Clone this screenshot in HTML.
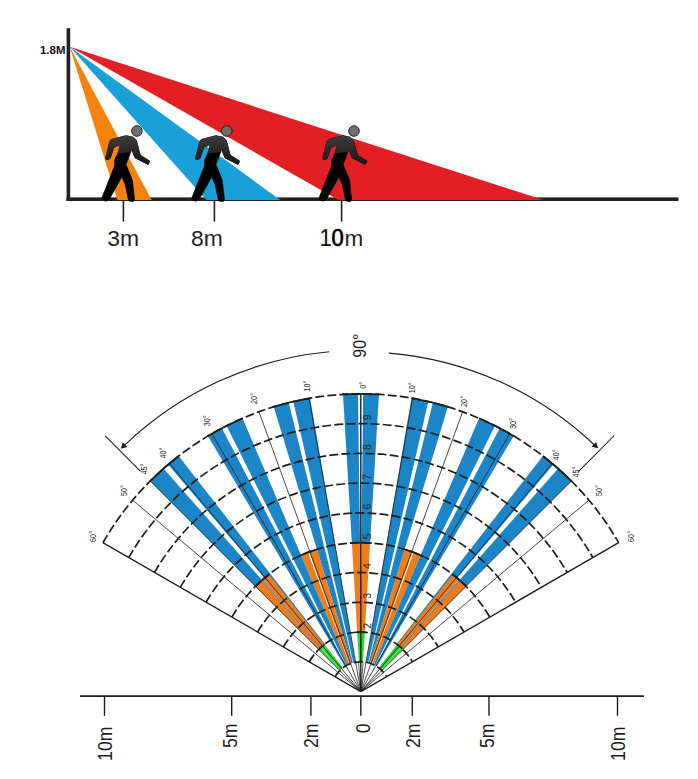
<!DOCTYPE html>
<html><head><meta charset="utf-8"><title>Detection pattern</title>
<style>
html,body{margin:0;padding:0;background:#fff;}
body{width:698px;height:779px;overflow:hidden;font-family:"Liberation Sans",sans-serif;}
svg{display:block;font-family:"Liberation Sans",sans-serif;}
</style></head><body>
<svg width="698" height="779" viewBox="0 0 698 779">
<rect width="698" height="779" fill="#fff"/>
<g id="side-view">
<rect x="66.6" y="28.2" width="3.6" height="172.8" fill="#231f20"/>
<rect x="66.6" y="197.4" width="611.9" height="3.6" fill="#231f20"/>
<path d="M69.7,46.8 L117.3,200.1 L151.7,200.1 Z" fill="#f5820d"/>
<path d="M69.7,46.8 L206.4,200.1 L280.4,200.1 Z" fill="#19a0d8"/>
<path d="M69.7,46.8 L338.4,200.1 L543.5,200.1 Z" fill="#e31f26"/>
<defs><linearGradient id="bg" gradientUnits="userSpaceOnUse" x1="0" y1="4" x2="0" y2="34"><stop offset="0" stop-color="#3e3e3e"/><stop offset="0.55" stop-color="#282828"/><stop offset="1" stop-color="#181818"/></linearGradient><clipPath id="up"><path d="M-40,0 L20,0 L20,36 L-3.6,36 L-4.6,20.6 L-22.6,23.2 L-22.6,32 L-40,32 Z"/></clipPath><g id="man"><path d="M-11.0,4.7 L-24.6,8.3 L-26.8,9.7 L-31.1,26.9 L-30.6,28.8 L-26.8,27.4 L-23.2,16.5 L-16.5,13.3 L-18.2,20.5 L-22.2,29.1 L-22.2,34.8 L-34.7,66.3 L-34.7,68.5 L-31.1,70.2 L-27.5,68.1 L-15.0,45.6 L-11.7,53.4 L-8.2,69.9 L-3.6,70.6 L-2.4,68.5 L-4.6,49.1 L-11.0,33.4 L-6.7,22.6 L-5.3,18.3 L-1.7,26.9 L11.2,33.4 L12.9,30.2 L3.3,24.1 L-0.7,9.0 L-3.9,6.2 Z" fill="#000" stroke="#000" stroke-width="0.8" stroke-linejoin="round"/><path d="M-11.0,4.7 L-24.6,8.3 L-26.8,9.7 L-31.1,26.9 L-30.6,28.8 L-26.8,27.4 L-23.2,16.5 L-16.5,13.3 L-18.2,20.5 L-22.2,29.1 L-22.2,34.8 L-34.7,66.3 L-34.7,68.5 L-31.1,70.2 L-27.5,68.1 L-15.0,45.6 L-11.7,53.4 L-8.2,69.9 L-3.6,70.6 L-2.4,68.5 L-4.6,49.1 L-11.0,33.4 L-6.7,22.6 L-5.3,18.3 L-1.7,26.9 L11.2,33.4 L12.9,30.2 L3.3,24.1 L-0.7,9.0 L-3.9,6.2 Z" fill="url(#bg)" stroke="url(#bg)" stroke-width="0.6" stroke-linejoin="round" clip-path="url(#up)"/><circle cx="0" cy="0" r="5.3" fill="#6e6e6e" stroke="#231f20" stroke-width="1"/></g></defs>
<use href="#man" x="136.9" y="131"/>
<use href="#man" x="226.8" y="131"/>
<use href="#man" x="354.0" y="131"/>
<line x1="123.4" y1="200" x2="123.4" y2="221.6" stroke="#231f20" stroke-width="1.6"/>
<line x1="214.4" y1="200" x2="214.4" y2="221.6" stroke="#231f20" stroke-width="1.6"/>
<line x1="341.6" y1="200" x2="341.6" y2="221.6" stroke="#231f20" stroke-width="1.6"/>
<text transform="translate(40,54.1) scale(1.08,1)" font-size="10.6" font-weight="bold" fill="#111">1.8M</text>
<text transform="translate(107.3,246.3) scale(1.05,1)" font-size="21.8" fill="#231f20">3m</text>
<text transform="translate(191.1,246.3) scale(1.05,1)" font-size="21.8" fill="#231f20">8m</text>
<text transform="translate(319.4,246.3) scale(0.94,1)" font-size="23.4" fill="#111" stroke="#111" stroke-width="0.15">1</text><text transform="translate(331.4,246.3) scale(0.94,1)" font-size="23.4" fill="#000" stroke="#000" stroke-width="0.7">0</text>
<text x="344.5" y="246.3" font-size="22.5" fill="#231f20">m</text>
</g>
<g id="top-view">
<path d="M358.97,661.88 L357.19,632.15 A59.56,59.56 0 0 1 361.37,632.04 L361.79,661.84 A29.78,29.78 0 0 0 358.97,661.88 Z" fill="#28d632"/>
<path d="M360.23,661.83 L360.55,632.04 A59.56,59.56 0 0 1 364.80,632.17 L363.03,661.90 A29.78,29.78 0 0 0 360.23,661.83 Z" fill="#28d632"/>
<path d="M357.19,632.15 L351.86,542.97 A148.90,148.90 0 0 1 360.10,542.70 L361.37,632.04 A59.56,59.56 0 0 0 357.19,632.15 Z" fill="#ef7d1a"/>
<path d="M360.55,632.04 L361.50,542.70 A148.90,148.90 0 0 1 370.12,542.99 L364.80,632.17 A59.56,59.56 0 0 0 360.55,632.04 Z" fill="#ef7d1a"/>
<path d="M351.86,542.97 L342.98,394.33 A297.80,297.80 0 0 1 357.99,393.81 L360.10,542.70 A148.90,148.90 0 0 0 351.86,542.97 Z" fill="#1c85c7"/>
<path d="M361.50,542.70 L363.09,393.81 A297.80,297.80 0 0 1 378.98,394.36 L370.12,542.99 A148.90,148.90 0 0 0 361.50,542.70 Z" fill="#1c85c7"/>
<path d="M366.28,662.33 L411.49,398.15 A297.80,297.80 0 0 1 428.30,401.55 L368.26,662.77 A29.78,29.78 0 0 0 366.28,662.33 Z" fill="#1c85c7"/>
<path d="M355.32,662.33 L310.11,398.15 A297.80,297.80 0 0 0 293.30,401.55 L353.34,662.77 A29.78,29.78 0 0 1 355.32,662.33 Z" fill="#1c85c7"/>
<path d="M368.71,662.89 L432.84,402.65 A297.80,297.80 0 0 1 447.87,406.81 L370.15,663.33 A29.78,29.78 0 0 0 368.71,662.89 Z" fill="#1c85c7"/>
<path d="M352.89,662.89 L288.76,402.65 A297.80,297.80 0 0 0 273.73,406.81 L351.45,663.33 A29.78,29.78 0 0 1 352.89,662.89 Z" fill="#1c85c7"/>
<path d="M370.15,663.33 L404.69,549.32 A148.90,148.90 0 0 1 412.46,551.95 L371.91,663.97 A29.78,29.78 0 0 0 370.15,663.33 Z" fill="#ef7d1a"/>
<path d="M351.45,663.33 L316.91,549.32 A148.90,148.90 0 0 0 309.14,551.95 L349.69,663.97 A29.78,29.78 0 0 1 351.45,663.33 Z" fill="#ef7d1a"/>
<path d="M372.15,664.07 L413.68,552.40 A148.90,148.90 0 0 1 420.60,555.23 L373.81,664.81 A29.78,29.78 0 0 0 372.15,664.07 Z" fill="#ef7d1a"/>
<path d="M349.45,664.07 L307.92,552.40 A148.90,148.90 0 0 0 301.00,555.23 L347.79,664.81 A29.78,29.78 0 0 1 349.45,664.07 Z" fill="#ef7d1a"/>
<path d="M373.81,664.81 L479.07,418.29 A297.80,297.80 0 0 1 495.07,425.79 L375.15,665.50 A29.78,29.78 0 0 0 373.81,664.81 Z" fill="#1c85c7"/>
<path d="M347.79,664.81 L242.53,418.29 A297.80,297.80 0 0 0 226.53,425.79 L346.45,665.50 A29.78,29.78 0 0 1 347.79,664.81 Z" fill="#1c85c7"/>
<path d="M375.60,665.76 L499.69,428.17 A297.80,297.80 0 0 1 513.73,436.07 L376.76,666.46 A29.78,29.78 0 0 0 375.60,665.76 Z" fill="#1c85c7"/>
<path d="M346.00,665.76 L221.91,428.17 A297.80,297.80 0 0 0 207.87,436.07 L344.84,666.46 A29.78,29.78 0 0 1 346.00,665.76 Z" fill="#1c85c7"/>
<path d="M396.67,644.05 L542.91,455.97 A297.80,297.80 0 0 1 553.41,464.48 L399.32,646.18 A59.56,59.56 0 0 0 396.67,644.05 Z" fill="#1c85c7"/>
<path d="M324.93,644.05 L178.69,455.97 A297.80,297.80 0 0 0 168.19,464.48 L322.28,646.18 A59.56,59.56 0 0 1 324.93,644.05 Z" fill="#1c85c7"/>
<path d="M400.27,646.99 L558.13,468.56 A297.80,297.80 0 0 1 571.38,481.02 L402.78,649.35 A59.56,59.56 0 0 0 400.27,646.99 Z" fill="#1c85c7"/>
<path d="M321.33,646.99 L163.47,468.56 A297.80,297.80 0 0 0 150.22,481.02 L318.82,649.35 A59.56,59.56 0 0 1 321.33,646.99 Z" fill="#1c85c7"/>
<path d="M378.64,667.75 L397.17,644.43 A59.56,59.56 0 0 1 400.70,647.38 L381.28,669.98 A29.78,29.78 0 0 0 378.64,667.75 Z" fill="#28d632"/>
<path d="M342.96,667.75 L324.43,644.43 A59.56,59.56 0 0 0 320.90,647.38 L340.32,669.98 A29.78,29.78 0 0 1 342.96,667.75 Z" fill="#28d632"/>
<path d="M397.17,644.43 L452.74,574.48 A148.90,148.90 0 0 1 458.93,579.61 L400.70,647.38 A59.56,59.56 0 0 0 397.17,644.43 Z" fill="#ef7d1a"/>
<path d="M324.43,644.43 L268.86,574.48 A148.90,148.90 0 0 0 262.67,579.61 L320.90,647.38 A59.56,59.56 0 0 1 324.43,644.43 Z" fill="#ef7d1a"/>
<path d="M381.49,670.18 L401.12,647.77 A59.56,59.56 0 0 1 402.78,649.35 L381.71,670.40 A29.78,29.78 0 0 0 381.49,670.18 Z" fill="#28d632"/>
<path d="M340.11,670.18 L320.48,647.77 A59.56,59.56 0 0 0 318.82,649.35 L339.89,670.40 A29.78,29.78 0 0 1 340.11,670.18 Z" fill="#28d632"/>
<path d="M401.12,647.77 L460.00,580.56 A148.90,148.90 0 0 1 466.01,586.23 L402.78,649.35 A59.56,59.56 0 0 0 401.12,647.77 Z" fill="#ef7d1a"/>
<path d="M320.48,647.77 L261.60,580.56 A148.90,148.90 0 0 0 255.59,586.23 L318.82,649.35 A59.56,59.56 0 0 1 320.48,647.77 Z" fill="#ef7d1a"/>
<path d="M400.70,647.38 L458.93,579.61 A148.90,148.90 0 0 1 460.00,580.56 L401.12,647.77 A59.56,59.56 0 0 0 400.70,647.38 Z" fill="#7d8fa3"/>
<path d="M320.90,647.38 L262.67,579.61 A148.90,148.90 0 0 0 261.60,580.56 L320.48,647.77 A59.56,59.56 0 0 1 320.90,647.38 Z" fill="#7d8fa3"/>
<path d="M381.28,669.98 L400.70,647.38 A59.56,59.56 0 0 1 401.12,647.77 L381.49,670.18 A29.78,29.78 0 0 0 381.28,669.98 Z" fill="#28d632"/>
<path d="M340.32,669.98 L320.90,647.38 A59.56,59.56 0 0 0 320.48,647.77 L340.11,670.18 A29.78,29.78 0 0 1 340.32,669.98 Z" fill="#28d632"/>
<path d="M335.01,676.71 A29.78,29.78 0 0 1 386.59,676.71" fill="none" stroke="#1d1d1b" stroke-width="1.7" stroke-dasharray="8.9 3.2"/>
<path d="M309.22,661.82 A59.56,59.56 0 0 1 412.38,661.82" fill="none" stroke="#1d1d1b" stroke-width="1.7" stroke-dasharray="8.9 3.2"/>
<path d="M283.43,646.93 A89.34,89.34 0 0 1 438.17,646.93" fill="none" stroke="#1d1d1b" stroke-width="1.7" stroke-dasharray="8.9 3.2"/>
<path d="M257.64,632.04 A119.12,119.12 0 0 1 463.96,632.04" fill="none" stroke="#1d1d1b" stroke-width="1.7" stroke-dasharray="8.9 3.2"/>
<path d="M231.85,617.15 A148.90,148.90 0 0 1 489.75,617.15" fill="none" stroke="#1d1d1b" stroke-width="1.7" stroke-dasharray="8.9 3.2"/>
<path d="M206.06,602.26 A178.68,178.68 0 0 1 515.54,602.26" fill="none" stroke="#1d1d1b" stroke-width="1.7" stroke-dasharray="8.9 3.2"/>
<path d="M180.27,587.37 A208.46,208.46 0 0 1 541.33,587.37" fill="none" stroke="#1d1d1b" stroke-width="1.7" stroke-dasharray="8.9 3.2"/>
<path d="M154.48,572.48 A238.24,238.24 0 0 1 567.12,572.48" fill="none" stroke="#1d1d1b" stroke-width="1.7" stroke-dasharray="8.9 3.2"/>
<path d="M128.69,557.59 A268.02,268.02 0 0 1 592.91,557.59" fill="none" stroke="#1d1d1b" stroke-width="1.7" stroke-dasharray="8.9 3.2"/>
<path d="M102.90,542.70 A297.80,297.80 0 0 1 618.70,542.70" fill="none" stroke="#1d1d1b" stroke-width="1.7" stroke-dasharray="8.9 3.2"/>
<path d="M360.80,393.80 A297.80,297.80 0 0 1 379.50,394.39" fill="none" stroke="#1d1d1b" stroke-width="1.8"/>
<path d="M360.80,393.80 A297.80,297.80 0 0 0 342.10,394.39" fill="none" stroke="#1d1d1b" stroke-width="1.8"/>
<path d="M411.49,398.15 A297.80,297.80 0 0 1 448.37,406.96" fill="none" stroke="#1d1d1b" stroke-width="1.8"/>
<path d="M310.11,398.15 A297.80,297.80 0 0 0 273.23,406.96" fill="none" stroke="#1d1d1b" stroke-width="1.8"/>
<path d="M479.07,418.29 A297.80,297.80 0 0 1 514.18,436.34" fill="none" stroke="#1d1d1b" stroke-width="1.8"/>
<path d="M242.53,418.29 A297.80,297.80 0 0 0 207.42,436.34" fill="none" stroke="#1d1d1b" stroke-width="1.8"/>
<path d="M542.91,455.97 A297.80,297.80 0 0 1 571.74,481.39" fill="none" stroke="#1d1d1b" stroke-width="1.8"/>
<path d="M178.69,455.97 A297.80,297.80 0 0 0 149.86,481.39" fill="none" stroke="#1d1d1b" stroke-width="1.8"/>
<path d="M360.80,542.70 A148.90,148.90 0 0 1 371.71,543.10" fill="none" stroke="#1d1d1b" stroke-width="1.8"/>
<path d="M360.80,542.70 A148.90,148.90 0 0 0 349.89,543.10" fill="none" stroke="#1d1d1b" stroke-width="1.8"/>
<path d="M406.32,549.83 A148.90,148.90 0 0 1 422.31,556.00" fill="none" stroke="#1d1d1b" stroke-width="1.8"/>
<path d="M315.28,549.83 A148.90,148.90 0 0 0 299.29,556.00" fill="none" stroke="#1d1d1b" stroke-width="1.8"/>
<path d="M452.47,574.27 A148.90,148.90 0 0 1 465.90,586.13" fill="none" stroke="#1d1d1b" stroke-width="1.8"/>
<path d="M269.13,574.27 A148.90,148.90 0 0 0 255.70,586.13" fill="none" stroke="#1d1d1b" stroke-width="1.8"/>
<path d="M360.80,632.04 A59.56,59.56 0 0 1 365.58,632.23" fill="none" stroke="#1d1d1b" stroke-width="1.8"/>
<path d="M360.80,632.04 A59.56,59.56 0 0 0 356.02,632.23" fill="none" stroke="#1d1d1b" stroke-width="1.8"/>
<path d="M397.14,644.41 A59.56,59.56 0 0 1 402.32,648.90" fill="none" stroke="#1d1d1b" stroke-width="1.8"/>
<path d="M324.46,644.41 A59.56,59.56 0 0 0 319.28,648.90" fill="none" stroke="#1d1d1b" stroke-width="1.8"/>
<line x1="360.80" y1="691.60" x2="412.51" y2="398.32" stroke="#1d1d1b" stroke-width="0.8"/>
<line x1="360.80" y1="691.60" x2="309.09" y2="398.32" stroke="#1d1d1b" stroke-width="0.8"/>
<line x1="360.80" y1="691.60" x2="462.65" y2="411.76" stroke="#1d1d1b" stroke-width="0.8"/>
<line x1="360.80" y1="691.60" x2="258.95" y2="411.76" stroke="#1d1d1b" stroke-width="0.8"/>
<line x1="360.80" y1="691.60" x2="509.70" y2="433.70" stroke="#1d1d1b" stroke-width="0.8"/>
<line x1="360.80" y1="691.60" x2="211.90" y2="433.70" stroke="#1d1d1b" stroke-width="0.8"/>
<line x1="360.80" y1="691.60" x2="552.22" y2="463.47" stroke="#1d1d1b" stroke-width="0.8"/>
<line x1="360.80" y1="691.60" x2="169.38" y2="463.47" stroke="#1d1d1b" stroke-width="0.8"/>
<line x1="360.80" y1="691.60" x2="571.38" y2="481.02" stroke="#1d1d1b" stroke-width="0.8"/>
<line x1="360.80" y1="691.60" x2="150.22" y2="481.02" stroke="#1d1d1b" stroke-width="0.8"/>
<line x1="360.80" y1="691.60" x2="588.93" y2="500.18" stroke="#1d1d1b" stroke-width="0.8"/>
<line x1="360.80" y1="691.60" x2="132.67" y2="500.18" stroke="#1d1d1b" stroke-width="0.8"/>
<line x1="360.80" y1="691.60" x2="618.70" y2="542.70" stroke="#1d1d1b" stroke-width="1.35"/>
<line x1="360.80" y1="691.60" x2="102.90" y2="542.70" stroke="#1d1d1b" stroke-width="1.35"/>
<line x1="360.80" y1="691.60" x2="360.80" y2="393.80" stroke="#1d1d1b" stroke-width="1.4"/>
<line x1="360.80" y1="691.60" x2="363.08" y2="661.91" stroke="#1d1d1b" stroke-width="0.7"/>
<line x1="360.80" y1="691.60" x2="358.52" y2="661.91" stroke="#1d1d1b" stroke-width="0.7"/>
<path d="M388.93,353.07 A339.7,339.7 0 0 1 594.63,445.19" fill="none" stroke="#1d1d1b" stroke-width="1.2"/>
<line x1="578.15" y1="471.96" x2="614.23" y2="435.50" stroke="#1d1d1b" stroke-width="1.05"/>
<path d="M598.26,448.26 L596.10,441.90 L591.65,446.63 Z" fill="#1d1d1b"/>
<path d="M329.27,351.76 A341.3,341.3 0 0 0 124.14,445.68" fill="none" stroke="#1d1d1b" stroke-width="1.2"/>
<line x1="140.54" y1="471.34" x2="105.18" y2="435.98" stroke="#1d1d1b" stroke-width="1.05"/>
<path d="M120.65,448.67 L122.87,442.19 L127.36,446.89 Z" fill="#1d1d1b"/>
<text transform="translate(366.40,388.80) rotate(-90) scale(0.86,1)" font-size="8.4" fill="#1d1d1b">0°</text>
<text transform="translate(310.00,391.50) rotate(-90) scale(0.86,1)" font-size="8.4" fill="#1d1d1b">10°</text>
<text transform="translate(257.30,404.00) rotate(-90) scale(0.86,1)" font-size="8.4" fill="#1d1d1b">20°</text>
<text transform="translate(209.70,426.20) rotate(-90) scale(0.86,1)" font-size="8.4" fill="#1d1d1b">30°</text>
<text transform="translate(166.00,458.50) rotate(-90) scale(0.86,1)" font-size="8.4" fill="#1d1d1b">40°</text>
<text transform="translate(147.30,474.60) rotate(-90) scale(0.86,1)" font-size="8.4" fill="#1d1d1b">45°</text>
<text transform="translate(126.60,496.10) rotate(-90) scale(0.86,1)" font-size="8.4" fill="#1d1d1b">50°</text>
<text transform="translate(96.10,541.90) rotate(-90) scale(0.86,1)" font-size="8.4" fill="#1d1d1b">60°</text>
<text transform="translate(415.30,393.30) rotate(-90) scale(0.86,1)" font-size="8.4" fill="#1d1d1b">10°</text>
<text transform="translate(467.20,406.90) rotate(-90) scale(0.86,1)" font-size="8.4" fill="#1d1d1b">20°</text>
<text transform="translate(515.60,429.10) rotate(-90) scale(0.86,1)" font-size="8.4" fill="#1d1d1b">30°</text>
<text transform="translate(558.50,460.30) rotate(-90) scale(0.86,1)" font-size="8.4" fill="#1d1d1b">40°</text>
<text transform="translate(579.00,477.50) rotate(-90) scale(0.86,1)" font-size="8.4" fill="#1d1d1b">45°</text>
<text transform="translate(602.20,496.10) rotate(-90) scale(0.86,1)" font-size="8.4" fill="#1d1d1b">50°</text>
<text transform="translate(633.80,541.90) rotate(-90) scale(0.86,1)" font-size="8.4" fill="#1d1d1b">60°</text>
<text transform="translate(366.40,357.70) rotate(-90) scale(0.84,1)" font-size="19" fill="#1d1d1b">90°</text>
<text transform="translate(370.60,628.64) rotate(-90) scale(1.0,1)" font-size="10.5" fill="#262626">2</text>
<text transform="translate(370.60,598.86) rotate(-90) scale(1.0,1)" font-size="10.5" fill="#262626">3</text>
<text transform="translate(370.60,569.08) rotate(-90) scale(1.0,1)" font-size="10.5" fill="#262626">4</text>
<text transform="translate(370.60,539.30) rotate(-90) scale(1.0,1)" font-size="10.5" fill="#262626">5</text>
<text transform="translate(370.60,509.52) rotate(-90) scale(1.0,1)" font-size="10.5" fill="#262626">6</text>
<text transform="translate(370.60,479.74) rotate(-90) scale(1.0,1)" font-size="10.5" fill="#262626">7</text>
<text transform="translate(370.60,449.96) rotate(-90) scale(1.0,1)" font-size="10.5" fill="#262626">8</text>
<text transform="translate(370.60,420.18) rotate(-90) scale(1.0,1)" font-size="10.5" fill="#262626">9</text>
<line x1="80" y1="696.05" x2="644" y2="696.05" stroke="#1d1d1b" stroke-width="1.7"/>
<line x1="104.5" y1="696" x2="104.5" y2="715.8" stroke="#1d1d1b" stroke-width="1.4"/>
<line x1="231.7" y1="696" x2="231.7" y2="715.8" stroke="#1d1d1b" stroke-width="1.4"/>
<line x1="310.9" y1="696" x2="310.9" y2="715.8" stroke="#1d1d1b" stroke-width="1.4"/>
<line x1="360.8" y1="696" x2="360.8" y2="715.8" stroke="#1d1d1b" stroke-width="1.4"/>
<line x1="412.3" y1="696" x2="412.3" y2="715.8" stroke="#1d1d1b" stroke-width="1.4"/>
<line x1="489" y1="696" x2="489" y2="715.8" stroke="#1d1d1b" stroke-width="1.4"/>
<line x1="617.5" y1="696" x2="617.5" y2="715.8" stroke="#1d1d1b" stroke-width="1.4"/>
<text transform="translate(112.20,760.90) rotate(-90) scale(0.88,1)" font-size="20" fill="#1d1d1b">10m</text>
<text transform="translate(236.80,748.00) rotate(-90) scale(0.88,1)" font-size="20" fill="#1d1d1b">5m</text>
<text transform="translate(318.20,748.00) rotate(-90) scale(0.88,1)" font-size="20" fill="#1d1d1b">2m</text>
<text transform="translate(369.70,733.30) rotate(-90) scale(0.88,1)" font-size="20" fill="#1d1d1b">0</text>
<text transform="translate(419.80,748.00) rotate(-90) scale(0.88,1)" font-size="20" fill="#1d1d1b">2m</text>
<text transform="translate(494.10,748.00) rotate(-90) scale(0.88,1)" font-size="20" fill="#1d1d1b">5m</text>
<text transform="translate(625.40,760.90) rotate(-90) scale(0.88,1)" font-size="20" fill="#1d1d1b">10m</text>
</g>
</svg>
</body></html>
